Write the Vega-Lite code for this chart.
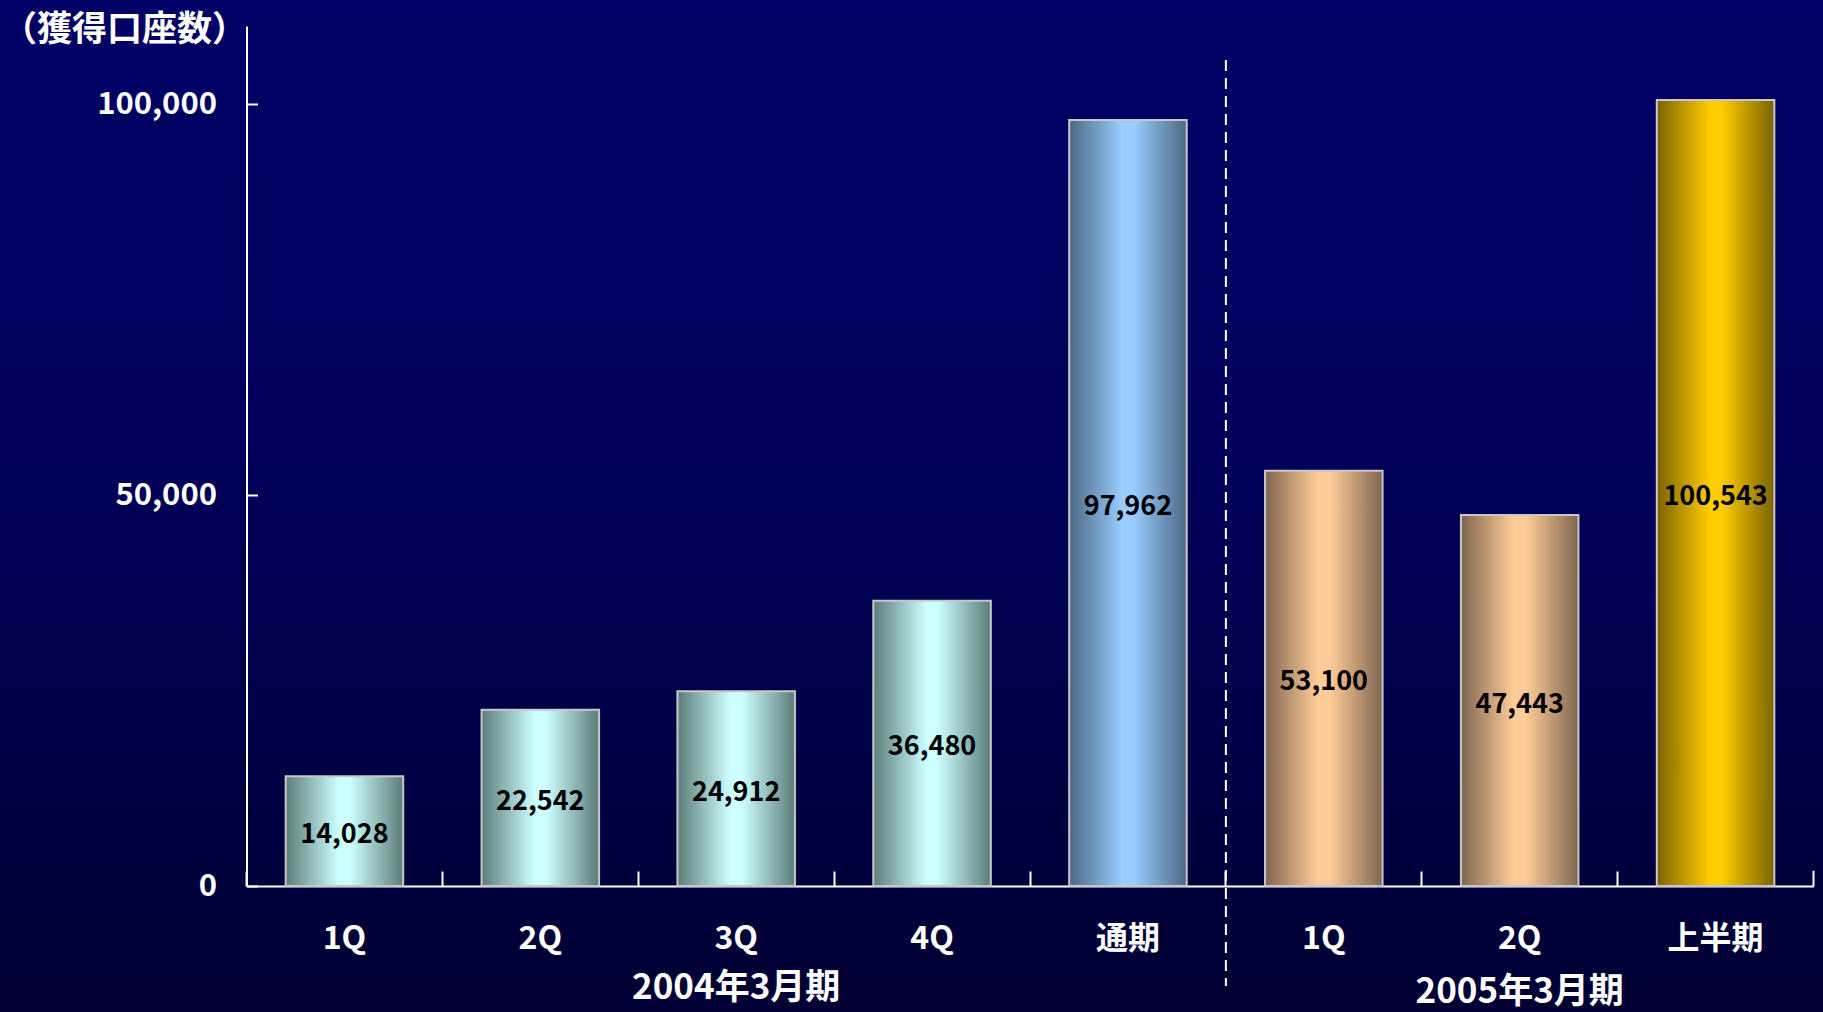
{
  "$schema": "https://vega.github.io/schema/vega-lite/v6.json",
  "width": 1823,
  "height": 1012,
  "autosize": "none",
  "padding": 0,
  "background": "#000040",
  "config": {
    "font": "Noto Sans CJK JP",
    "view": {
      "stroke": null,
      "fill": {
        "gradient": "linear",
        "x1": 0, "y1": 0, "x2": 0, "y2": 1,
        "stops": [
          {"offset": 0, "color": "#000066"},
          {"offset": 0.45, "color": "#00005a"},
          {"offset": 0.85, "color": "#00003e"},
          {"offset": 1, "color": "#000033"}
        ]
      }
    }
  },
  "data": {
    "values": [
      {"cat": "1Q|2004", "value": 14028, "grp": "q04"},
      {"cat": "2Q|2004", "value": 22542, "grp": "q04"},
      {"cat": "3Q|2004", "value": 24912, "grp": "q04"},
      {"cat": "4Q|2004", "value": 36480, "grp": "q04"},
      {"cat": "通期|2004", "value": 97962, "grp": "full04"},
      {"cat": "1Q|2005", "value": 53100, "grp": "q05"},
      {"cat": "2Q|2005", "value": 47443, "grp": "q05"},
      {"cat": "上半期|2005", "value": 100543, "grp": "half05"}
    ]
  },
  "encoding": {
    "x": {
      "field": "cat",
      "type": "nominal",
      "sort": null,
      "scale": {
        "domain": ["1Q|2004", "2Q|2004", "3Q|2004", "4Q|2004", "通期|2004", "1Q|2005", "2Q|2005", "上半期|2005"],
        "range": [246.5, 1813.5],
        "paddingInner": 0,
        "paddingOuter": 0
      },
      "axis": {
        "orient": "bottom",
        "offset": -126,
        "title": null,
        "labelAngle": 0,
        "labelExpr": "split(datum.value, '|')[0]",
        "labelFontSize": 32,
        "labelFontWeight": "bold",
        "labelColor": "#ffffff",
        "labelBaseline": "top",
        "labelPadding": 52,
        "domainColor": "#ffffff",
        "domainWidth": 2,
        "tickColor": "#ffffff",
        "tickWidth": 2,
        "tickSize": -15,
        "bandPosition": 0,
        "grid": false
      }
    },
    "y": {
      "field": "value",
      "type": "quantitative",
      "scale": {"domain": [0, 110000], "range": [886, 26], "nice": false},
      "axis": {
        "orient": "left",
        "offset": -246.5,
        "values": [0, 50000, 100000],
        "format": ",d",
        "grid": false,
        "labelFontSize": 31,
        "labelFontWeight": "bold",
        "labelColor": "#ffffff",
        "labelPadding": 41,
        "domainColor": "#ffffff",
        "domainWidth": 2,
        "tickColor": "#ffffff",
        "tickWidth": 2,
        "tickSize": -11,
        "title": "（獲得口座数）",
        "titleAngle": 0,
        "titleAlign": "left",
        "titleBaseline": "middle",
        "titleX": -245,
        "titleY": 29,
        "titleFontSize": 35,
        "titleFontWeight": "bold",
        "titleColor": "#ffffff"
      }
    }
  },
  "layer": [
    {
      "transform": [{"filter": "datum.grp === 'q04'"}],
      "mark": {
        "type": "bar", "width": {"band": 0.6}, "stroke": "#c8c8c8", "strokeWidth": 2,
        "fill": {"gradient": "linear", "x1": 0, "y1": 0, "x2": 1, "y2": 0,
          "stops": [{"offset": 0, "color": "#5c7c78"}, {"offset": 0.45, "color": "#ccffff"}, {"offset": 0.55, "color": "#ccffff"}, {"offset": 1, "color": "#5c7c78"}]}
      }
    },
    {
      "transform": [{"filter": "datum.grp === 'full04'"}],
      "mark": {
        "type": "bar", "width": {"band": 0.6}, "stroke": "#c8c8c8", "strokeWidth": 2,
        "fill": {"gradient": "linear", "x1": 0, "y1": 0, "x2": 1, "y2": 0,
          "stops": [{"offset": 0, "color": "#4d6884"}, {"offset": 0.45, "color": "#99ccff"}, {"offset": 0.55, "color": "#99ccff"}, {"offset": 1, "color": "#4d6884"}]}
      }
    },
    {
      "transform": [{"filter": "datum.grp === 'q05'"}],
      "mark": {
        "type": "bar", "width": {"band": 0.6}, "stroke": "#c8c8c8", "strokeWidth": 2,
        "fill": {"gradient": "linear", "x1": 0, "y1": 0, "x2": 1, "y2": 0,
          "stops": [{"offset": 0, "color": "#7f664f"}, {"offset": 0.45, "color": "#ffcc99"}, {"offset": 0.55, "color": "#ffcc99"}, {"offset": 1, "color": "#7f664f"}]}
      }
    },
    {
      "transform": [{"filter": "datum.grp === 'half05'"}],
      "mark": {
        "type": "bar", "width": {"band": 0.6}, "stroke": "#c8c8c8", "strokeWidth": 2,
        "fill": {"gradient": "linear", "x1": 0, "y1": 0, "x2": 1, "y2": 0,
          "stops": [{"offset": 0, "color": "#7a6200"}, {"offset": 0.45, "color": "#ffcc00"}, {"offset": 0.55, "color": "#ffcc00"}, {"offset": 1, "color": "#7a6200"}]}
      }
    },
    {
      "transform": [{"calculate": "datum.value / 2", "as": "mid"}],
      "mark": {"type": "text", "fontSize": 27, "fontWeight": "bold", "color": "#000000", "baseline": "middle", "align": "center", "dy": 4},
      "encoding": {
        "y": {"field": "mid", "type": "quantitative"},
        "text": {"field": "value", "type": "quantitative", "format": ","}
      }
    },
    {
      "data": {"values": [{"cat": "1Q|2005"}]},
      "transform": [{"calculate": "105650", "as": "ytop"}, {"calculate": "-12790", "as": "ybot"}],
      "mark": {"type": "rule", "color": "#ffffff", "strokeWidth": 2, "strokeDash": [11, 7]},
      "encoding": {
        "x": {"field": "cat", "type": "nominal", "bandPosition": 0},
        "y": {"field": "ytop", "type": "quantitative"},
        "y2": {"field": "ybot"}
      }
    },
    {
      "data": {"values": [{"cat": "上半期|2005"}]},
      "transform": [{"calculate": "1950", "as": "ytop"}, {"calculate": "0", "as": "ybot"}],
      "mark": {"type": "rule", "color": "#ffffff", "strokeWidth": 2},
      "encoding": {
        "x": {"field": "cat", "type": "nominal", "bandPosition": 1},
        "y": {"field": "ytop", "type": "quantitative"},
        "y2": {"field": "ybot"}
      }
    },
    {
      "data": {"values": [{"cat": "3Q|2004", "t": "2004年3月期"}, {"cat": "2Q|2005", "t": "2005年3月期"}]},
      "transform": [{"calculate": "datum.cat === '3Q|2004' ? -13100 : -13500", "as": "ly"}],
      "mark": {"type": "text", "fontSize": 35, "fontWeight": "bold", "color": "#ffffff", "baseline": "middle", "align": "center"},
      "encoding": {
        "y": {"field": "ly", "type": "quantitative"},
        "text": {"field": "t"}
      }
    }
  ]
}
